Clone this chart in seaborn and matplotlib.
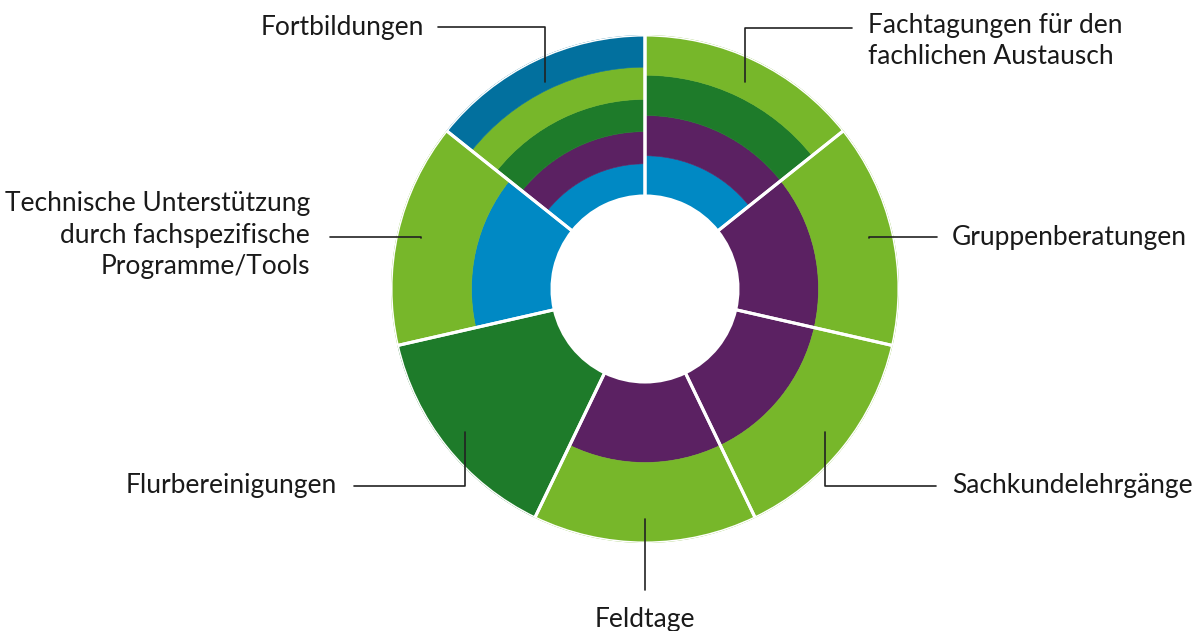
import numpy as np
import matplotlib
matplotlib.use("Agg")
import matplotlib.pyplot as plt
import seaborn as sns

# ---------------- data ----------------
categories = [
    "Fachtagungen für den\nfachlichen Austausch",
    "Gruppenberatungen",
    "Sachkundelehrgänge",
    "Feldtage",
    "Flurbereinigungen",
    "Technische Unterstützung\ndurch fachspezifische\nProgramme/Tools",
    "Fortbildungen",
]
# ring levels of each sector, listed from the inside out
ring_levels = [
    ["blau", "lila", "dunkelgruen", "hellgruen"],
    ["lila", "hellgruen"],
    ["lila", "hellgruen"],
    ["lila", "hellgruen"],
    ["dunkelgruen"],
    ["blau", "hellgruen"],
    ["blau", "lila", "dunkelgruen", "hellgruen", "dunkelblau"],
]
level_names = ["blau", "lila", "dunkelgruen", "hellgruen", "dunkelblau"]
sector_values = [1, 1, 1, 1, 1, 1, 1]

# ---------------- style ----------------
sns.set_theme(style="white")
plt.rcParams["font.family"] = ["Lato", "DejaVu Sans"]
palette = sns.color_palette(["#0089C4", "#5B2162", "#1E7B2A", "#77B72A", "#02709E"])
colors = dict(zip(level_names, palette))
text_color = "#1a1a1a"
line_color = "#222222"

W, H = 1201, 631
fig = plt.figure(figsize=(W / 100, H / 100), dpi=100)
fig.patch.set_facecolor("white")

cx, cy, R = 645, 631 - 289, 254
ax = fig.add_axes([(cx - R) / W, (cy - R) / H, 2 * R / W, 2 * R / H], projection="polar")
ax.set_theta_zero_location("N")
ax.set_theta_direction(-1)
ax.set_ylim(0, 1)
ax.axis("off")

hole = 93 / 254
total = sum(sector_values)
widths = [2 * np.pi * v / total for v in sector_values]
starts = np.concatenate([[0], np.cumsum(widths)[:-1]])
mids = starts + np.array(widths) / 2

for th, w, levels in zip(mids, widths, ring_levels):
    n = len(levels)
    dr = (1 - hole) / n
    for j, lev in enumerate(levels):
        ax.bar(th, dr, width=w, bottom=hole + j * dr, color=colors[lev],
               edgecolor=colors[lev], linewidth=0.4, align="center")
# white sector separators
for th, w in zip(mids, widths):
    ax.bar(th, 1 - hole, width=w, bottom=hole, fill=False,
           edgecolor="white", linewidth=2.2, align="center")

# ---------------- labels with leader lines ----------------
anchor_r = 0.905
# line start (image pixels), text position (image pixels), alignment
line_starts = [(852, 28), (937, 237), (936, 486), (645, 590), (354, 486), (330, 237), (438, 27)]
text_pos = [(868, 41), (952, 237), (952, 486), (645, 627), (337, 486), (310, 235), (424, 27)]
text_align = [("left", "center"), ("left", "center"), ("left", "center"),
              ("center", "baseline"), ("right", "center"), ("right", "center"),
              ("right", "center")]

for lab, th, (sx, sy), (tx, ty), (ha, va) in zip(categories, mids, line_starts, text_pos, text_align):
    ax.annotate("", xy=(th, anchor_r), xycoords="data",
                xytext=(sx, H - sy), textcoords="figure pixels",
                arrowprops=dict(arrowstyle="-", color=line_color, lw=1.2,
                                shrinkA=0, shrinkB=0,
                                connectionstyle="angle,angleA=0,angleB=90,rad=0"))
    ax.annotate(lab, xy=(th, anchor_r), xycoords="data",
                xytext=(tx, H - ty), textcoords="figure pixels",
                ha=ha, va=va, multialignment=ha if ha != "center" else "center",
                fontsize=19, color=text_color, linespacing=1.33,
                annotation_clip=False)

fig.savefig("out.png", dpi=100, facecolor="white")
